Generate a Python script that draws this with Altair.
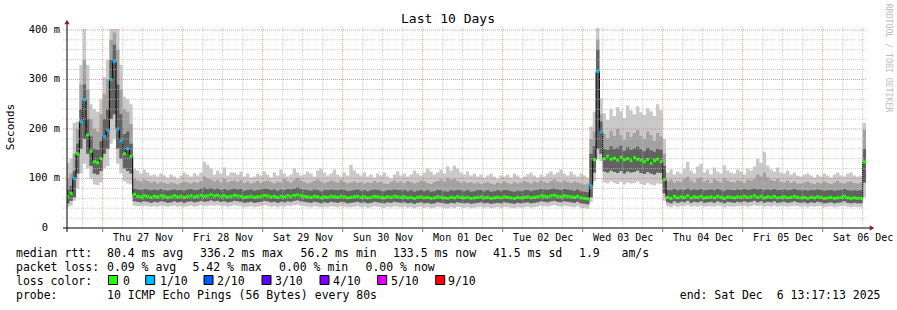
import altair as alt
import pandas as pd

# ---------------- data (hourly bins) ----------------
# hours are relative to Thu 27 Nov 00:00; graph spans Nov 26 13:17:13 .. Dec 6 13:17:13
START_H = -10.7131
END_H = 229.2869
FIRST_BIN = -11

day_labels = ["Thu 27 Nov", "Fri 28 Nov", "Sat 29 Nov", "Sun 30 Nov", "Mon 01 Dec",
              "Tue 02 Dec", "Wed 03 Dec", "Thu 04 Dec", "Fri 05 Dec", "Sat 06 Dec"]

# median rtt (ms)
med_hump = [64, 70, 100, 150, 215, 259, 188, 155, 134, 132, 140, 185, 198, 300, 336, 200, 176, 150, 160, 145]
med_flat1 = [68, 64, 63, 65, 64, 62, 64, 63, 65, 64, 62, 63, 65, 63, 64, 62, 64, 65, 63, 64,
             66, 64, 65, 67, 65, 66, 64, 65, 63, 64, 66, 65, 64, 62, 63, 64, 62, 63, 64, 66,
             65, 63, 64, 62, 64, 63, 65, 64, 66, 67, 65, 64, 63, 62, 64, 63, 61, 63, 62, 64,
             63, 62, 64, 63, 61, 62, 63, 64, 62, 63, 61, 62, 64, 63, 62, 61, 63, 62, 64, 63,
             62, 63, 61, 62, 60, 62, 63, 61, 62, 60, 61, 63, 62, 61, 60, 62, 61, 63, 62, 61,
             62, 60, 61, 62, 63, 61, 62, 60, 61, 62, 61, 63, 62, 61, 60, 62, 61, 62, 63, 61,
             62, 63, 65, 64, 63, 65, 66, 64, 63, 65, 64, 63, 62, 64, 61, 60, 59]
med_spike = [85, 138, 316, 194, 140, 145, 139, 141, 137, 143, 138, 140, 136, 142, 139, 137,
             134, 138, 131, 136, 139, 134, 98]
med_flat2 = [62, 60, 64, 61, 63, 62, 65, 61, 63, 62, 64, 61, 62, 63, 61, 64, 62, 60, 63, 62,
             61, 63, 62, 64, 62, 63, 65, 62, 64, 61, 63, 62, 64, 61, 62, 63, 61, 62, 64, 62,
             61, 62, 60, 62, 61, 63, 62, 60, 61, 62, 60, 61, 62, 64, 61, 60, 61, 60]
med_end = [60, 133.5]

# packet loss per bin (pings lost out of 10)
loss_hump = [0, 0, 1, 0, 1, 1, 0, 0, 0, 0, 0, 1, 1, 1, 1, 1, 1, 0, 1, 0]
loss_spike = [1, 0, 1, 1] + [0] * 19

# smoke: min ping, lower ping, inner upper ping, outer upper ping, max ping (ms)
mn_hump = [42, 45, 55, 80, 110, 130, 120, 100, 88, 87, 92, 120, 125, 170, 180, 130, 110, 95, 90, 88]
lo_hump = [50, 55, 62, 110, 160, 180, 150, 125, 110, 108, 115, 150, 160, 220, 230, 160, 140, 120, 115, 110]
hia_hump = [78, 85, 115, 170, 240, 290, 220, 185, 160, 158, 175, 220, 240, 340, 370, 290, 230, 190, 195, 170]
hib_hump = [100, 110, 150, 200, 290, 340, 280, 220, 200, 195, 230, 270, 300, 380, 395, 360, 280, 240, 235, 210]
mx_hump = [132, 140, 212, 215, 330, 402, 330, 250, 240, 235, 260, 305, 340, 402, 402, 402, 330, 265, 260, 250]

mx_flat1 = [120, 116, 110, 118, 112, 106,
            108, 104, 110, 106, 102, 108, 104, 100,
            106, 112, 108, 104, 110, 106, 112,
            134, 128,
            120, 108, 116, 110, 122, 106, 112,
            112, 108, 114, 104, 110, 102,
            104, 110, 106, 114, 108, 102, 112, 106, 118, 110, 104, 108, 120, 112, 106,
            108, 114, 110, 104, 116, 120, 112, 106, 110, 118, 108, 104, 112, 106, 128, 116, 110, 106, 112, 104,
            108, 102, 110, 106, 112, 104, 100, 108, 114, 106, 110, 104, 108, 116, 110, 106, 112, 120, 114, 108,
            112, 118, 110, 124, 116, 126, 120, 112, 108, 114, 106, 110, 104, 108, 102, 106, 110, 104, 100, 106,
            104, 108, 102, 110, 106, 100, 104, 108, 112, 106, 102, 108, 104, 110, 114, 108, 112, 118, 110, 106,
            114, 108, 104, 110, 106, 102]
hib_flat1 = [100, 96, 94, 98, 95, 92, 94, 90, 93, 91, 89, 92, 90, 88, 91, 94, 92, 90, 93, 91,
             95, 104, 100, 98, 94, 97, 92, 99, 93, 95, 96, 93, 97, 91, 94, 90, 92, 95, 91, 94,
             96, 93, 90, 94, 92, 99, 95, 92, 97, 101, 96, 93, 90, 92, 95, 98, 94, 91, 93, 96,
             94, 92, 97, 93, 90, 92, 94, 91, 93, 90, 92, 91, 95, 92, 94, 90, 89, 93, 96, 92,
             94, 91, 95, 93, 90, 92, 96, 94, 91, 89, 93, 95, 98, 94, 101, 97, 99, 95, 92, 94,
             91, 93, 90, 92, 89, 91, 93, 90, 88, 92, 90, 94, 91, 89, 93, 90, 92, 95, 93, 90,
             94, 92, 96, 93, 91, 95, 98, 94, 92, 96, 93, 91, 94, 92, 90, 88, 90]
hia_flat1 = [80, 78, 77, 79, 78, 76, 78, 76, 79, 77, 75, 77, 78, 76, 77, 75, 78, 79, 76, 77,
             80, 82, 79, 81, 78, 80, 77, 79, 76, 78, 80, 78, 79, 75, 77, 78, 75, 77, 78, 80,
             79, 77, 78, 75, 78, 77, 79, 78, 80, 82, 79, 78, 76, 75, 78, 77, 74, 77, 76, 78,
             77, 76, 78, 77, 74, 75, 77, 78, 75, 77, 74, 76, 78, 77, 75, 74, 77, 76, 78, 77,
             76, 77, 74, 76, 73, 75, 77, 74, 76, 73, 74, 77, 76, 74, 73, 76, 75, 77, 76, 74,
             76, 73, 74, 76, 77, 74, 76, 73, 74, 76, 74, 77, 76, 74, 73, 75, 74, 76, 77, 74,
             76, 77, 79, 78, 77, 79, 80, 78, 77, 79, 78, 76, 75, 78, 74, 73, 72]
lo_flat1 = [54, 53, 52, 54, 53, 51, 53, 52, 54, 53, 51, 52, 54, 52, 53, 51, 53, 54, 52, 53,
            55, 53, 54, 56, 54, 55, 53, 54, 52, 53, 55, 54, 53, 51, 52, 53, 51, 52, 53, 55,
            54, 52, 53, 51, 53, 52, 54, 53, 55, 56, 54, 53, 52, 51, 53, 52, 50, 52, 51, 53,
            52, 51, 53, 52, 50, 51, 52, 53, 51, 52, 50, 51, 53, 52, 51, 50, 52, 51, 53, 52,
            51, 52, 50, 51, 49, 51, 52, 50, 51, 49, 50, 52, 51, 50, 49, 51, 50, 52, 51, 50,
            51, 49, 50, 51, 52, 50, 51, 49, 50, 51, 50, 52, 51, 50, 49, 51, 50, 51, 52, 50,
            51, 52, 54, 53, 52, 54, 55, 53, 52, 54, 53, 52, 51, 53, 50, 49, 48]
mn_flat1 = [45, 44, 44, 45, 44, 43, 44, 43, 45, 44, 43, 44, 45, 43, 44, 43, 44, 45, 43, 44,
            46, 44, 45, 46, 45, 46, 44, 45, 43, 44, 46, 45, 44, 42, 43, 44, 42, 43, 44, 46,
            45, 43, 44, 42, 44, 43, 45, 44, 46, 47, 45, 44, 43, 42, 44, 43, 42, 43, 42, 44,
            43, 42, 44, 43, 42, 42, 43, 44, 42, 43, 41, 42, 44, 43, 42, 41, 43, 42, 44, 43,
            42, 43, 41, 42, 40, 42, 43, 41, 42, 40, 41, 43, 42, 41, 40, 42, 41, 43, 42, 41,
            42, 40, 41, 42, 43, 41, 42, 40, 41, 42, 41, 43, 42, 41, 40, 42, 41, 42, 43, 41,
            42, 43, 45, 44, 43, 45, 46, 44, 43, 45, 44, 43, 42, 44, 41, 40, 39]

mx_spike = [205, 235, 404, 262, 232, 218, 240, 226, 244, 236, 222, 248, 238, 230, 246, 234,
            228, 242, 236, 226, 250, 238, 180]
hib_spike = [180, 195, 380, 230, 190, 182, 196, 186, 200, 188, 178, 194, 184, 192, 198, 186,
             180, 195, 188, 176, 192, 185, 150]
hia_spike = [150, 165, 360, 215, 160, 158, 165, 160, 162, 166, 156, 163, 158, 161, 164, 159,
             155, 162, 157, 154, 160, 158, 125]
lo_spike = [62, 112, 160, 150, 114, 112, 116, 113, 111, 115, 110, 114, 112, 113, 116, 111,
            109, 113, 110, 108, 112, 111, 70]
mn_spike = [52, 95, 140, 135, 92, 90, 94, 91, 89, 93, 88, 92, 90, 91, 94, 89,
            87, 91, 88, 86, 90, 89, 55]

mx_flat2 = [112, 118, 108, 114, 110, 120, 134, 116, 110, 124, 130, 112, 118, 108, 122, 114, 110, 126, 116, 112,
            110, 118, 114, 108, 120, 116, 124, 140, 132, 154, 126, 118, 114, 122, 112, 110, 116, 108, 112, 106,
            104, 108, 110, 106, 102, 108, 104, 110, 106, 102, 108, 112, 106, 104, 110, 112, 106, 104]
hib_flat2 = [94, 98, 92, 95, 93, 99, 104, 96, 92, 100, 102, 94, 97, 91, 99, 95, 92, 101, 96, 93,
             92, 97, 95, 91, 98, 96, 100, 108, 104, 112, 102, 97, 95, 99, 93, 92, 96, 91, 94, 90,
             90, 92, 94, 91, 89, 92, 90, 94, 91, 89, 92, 95, 91, 90, 93, 94, 91, 90]
hia_flat2 = [77, 76, 79, 76, 78, 77, 80, 76, 78, 77, 79, 76, 77, 78, 76, 79, 77, 75, 78, 77,
             76, 78, 77, 79, 77, 78, 80, 78, 79, 77, 78, 77, 79, 76, 77, 78, 76, 77, 79, 77,
             76, 77, 75, 77, 76, 78, 77, 75, 76, 77, 75, 76, 77, 79, 76, 75, 76, 75]
lo_flat2 = [52, 50, 54, 51, 53, 52, 55, 51, 53, 52, 54, 51, 52, 53, 51, 54, 52, 50, 53, 52,
            51, 53, 52, 54, 52, 53, 55, 52, 54, 51, 53, 52, 54, 51, 52, 53, 51, 52, 54, 52,
            51, 52, 50, 52, 51, 53, 52, 50, 51, 52, 50, 51, 52, 54, 51, 50, 51, 50]
mn_flat2 = [44, 42, 45, 43, 44, 44, 46, 43, 44, 43, 45, 43, 44, 44, 43, 45, 44, 42, 44, 43,
            43, 44, 44, 45, 43, 44, 46, 44, 45, 43, 44, 43, 45, 43, 44, 44, 43, 44, 45, 44,
            43, 44, 42, 44, 43, 44, 44, 42, 43, 44, 42, 43, 44, 45, 43, 42, 43, 42]

mx_end = [106, 212]
hib_end = [92, 198]
hia_end = [76, 160]
lo_end = [50, 92]
mn_end = [42, 62]

# legend / statistics texts
stat_rtt = ["80.4 ms avg", "336.2 ms max", "56.2 ms min", "133.5 ms now", "41.5 ms sd", "1.9", "am/s"]
stat_loss = ["0.09 % avg", "5.42 % max", "0.00 % min", "0.00 % now"]
loss_names = ["0", "1/10", "2/10", "3/10", "4/10", "5/10", "9/10"]
loss_colors = ["#20ff00", "#00b8ff", "#0059ff", "#5e00ff", "#7e00ff", "#dd00ff", "#ff0000"]
probe_text = "10 ICMP Echo Pings (56 Bytes) every 80s"
end_text = "end: Sat Dec\u00a0\u00a06 13:17:13 2025"
y_ticks = [0, 100, 200, 300, 400]
y_tick_labels = ["0", "100 m", "200 m", "300 m", "400 m"]

# ---------------- build table ----------------
med = med_hump + med_flat1 + med_spike + med_flat2 + med_end
loss = loss_hump + [0] * len(med_flat1) + loss_spike + [0] * len(med_flat2) + [0, 0]
mn = mn_hump + mn_flat1 + mn_spike + mn_flat2 + mn_end
lo = lo_hump + lo_flat1 + lo_spike + lo_flat2 + lo_end
hia = hia_hump + hia_flat1 + hia_spike + hia_flat2 + hia_end
hib = hib_hump + hib_flat1 + hib_spike + hib_flat2 + hib_end
mx = mx_hump + mx_flat1 + mx_spike + mx_flat2 + mx_end
n = len(med)
for arr in (loss, mn, lo, hia, hib, mx):
    assert len(arr) == n, (len(arr), n)

df = pd.DataFrame({
    "x0": [FIRST_BIN + i for i in range(n)],
    "x1": [FIRST_BIN + i + 1 for i in range(n)],
    "med": med, "loss": loss, "mn": mn, "lo": lo, "hia": hia, "hib": hib, "mx": mx,
})
# extra closing row so that step areas cover the last bin
df_area = pd.concat([df, df.iloc[[-1]].assign(x0=FIRST_BIN + n)], ignore_index=True)

minor_h = [h for h in range(-6, 229, 6) if h % 24 != 0]
major_h = [h for h in range(0, 229, 24)]
minor_v = [v for v in range(20, 401, 20) if v % 100 != 0]
major_v = [100, 200, 300, 400]
label_h = [12 + 24 * i for i in range(len(day_labels))]

W, H = 800, 201
MONO = "DejaVu Sans Mono"

xscale = alt.Scale(domain=[START_H, END_H], nice=False, zero=False)
yscale = alt.Scale(domain=[0, 406], nice=False, zero=True)
lab_expr = "[" + ",".join("'%s'" % s for s in day_labels) + "][round((datum.value-12)/24)]"
xaxis = alt.Axis(values=label_h, labelExpr=lab_expr, domain=False, ticks=False, grid=False,
                 labelFont=MONO, labelFontSize=10, labelColor="#000000", labelPadding=4,
                 labelFlush=False, labelOverlap=False, title=None)


def X(field):
    return alt.X(field, type="quantitative", scale=xscale, axis=xaxis)


def Y(field):
    return alt.Y(field, type="quantitative", scale=yscale, axis=None)


base = alt.Chart(df_area)
band_light = base.mark_area(interpolate="step-after", color="#c9c9c9", clip=True).encode(
    x=X("x0"), y=Y("mn"), y2="mx")
band_mid = base.mark_area(interpolate="step-after", color="#a2a2a2", clip=True).encode(
    x=X("x0"), y=Y("lo"), y2="hib")
band_dark = base.mark_area(interpolate="step-after", color="#626262", clip=True).encode(
    x=X("x0"), y=Y("lo"), y2="hia")
median_line = base.mark_line(interpolate="step-after", color="#000000", strokeWidth=1, clip=True).encode(
    x=X("x0"), y=Y("med"))
median_marks = alt.Chart(df).mark_rule(strokeWidth=3, strokeCap="butt", clip=True).encode(
    x=X("x0"), x2="x1", y=Y("med"),
    color=alt.Color("loss:N", scale=alt.Scale(domain=[0, 1], range=[loss_colors[0], loss_colors[1]]), legend=None))

grid_minor_x = alt.Chart(pd.DataFrame({"h": minor_h})).mark_rule(
    color="#b8b8b8", strokeDash=[1, 1], opacity=0.75).encode(x=X("h"), y=alt.value(0), y2=alt.value(H))
grid_major_x = alt.Chart(pd.DataFrame({"h": major_h})).mark_rule(
    color="#dc5a5a", strokeDash=[1, 1], opacity=0.6).encode(x=X("h"), y=alt.value(0), y2=alt.value(H))
grid_minor_y = alt.Chart(pd.DataFrame({"v": minor_v})).mark_rule(
    color="#b8b8b8", strokeDash=[1, 1], opacity=0.75).encode(y=Y("v"), x=alt.value(-4), x2=alt.value(W))
grid_major_y = alt.Chart(pd.DataFrame({"v": major_v})).mark_rule(
    color="#dc5a5a", strokeDash=[1, 1], opacity=0.6).encode(y=Y("v"), x=alt.value(-4), x2=alt.value(W))
x_ticks = alt.Chart(pd.DataFrame({"h": major_h})).mark_rule(color="#d06060").encode(
    x=X("h"), y=alt.value(H + 1), y2=alt.value(H + 4))

axis_x = alt.Chart(pd.DataFrame({"a": [0]})).mark_rule(color="#000000").encode(
    x=alt.value(-4), x2=alt.value(W + 4), y=alt.value(H))
axis_y = alt.Chart(pd.DataFrame({"a": [0]})).mark_rule(color="#000000").encode(
    x=alt.value(0), y=alt.value(-4), y2=alt.value(H + 4))
arrow_up = alt.Chart(pd.DataFrame({"a": [0]})).mark_point(
    shape="triangle-up", filled=True, color="#8e2020", size=28, opacity=1).encode(
    x=alt.value(0), y=alt.value(-5))
arrow_right = alt.Chart(pd.DataFrame({"a": [0]})).mark_point(
    shape="triangle-right", filled=True, color="#8e2020", size=28, opacity=1).encode(
    x=alt.value(W + 5), y=alt.value(H))

ylab_df = pd.DataFrame({"v": y_ticks[1:], "t": y_tick_labels[1:]})
ylabels = alt.Chart(ylab_df).mark_text(align="right", baseline="middle", font=MONO, fontSize=10.4,
                                       color="#000000").encode(y=Y("v"), x=alt.value(-7), text="t:N")
ylabel0 = alt.Chart(pd.DataFrame({"v": y_ticks[:1], "t": y_tick_labels[:1]})).mark_text(
    align="right", baseline="middle", font=MONO, fontSize=10.4, color="#000000").encode(
    y=Y("v"), x=alt.value(-19), text="t:N")

one = pd.DataFrame({"a": [0]})


def txt(s, x, y, size=11.5, align="left", color="#000000", angle=0):
    return alt.Chart(one).mark_text(align=align, baseline="middle", font=MONO, fontSize=size,
                                    color=color, angle=angle).encode(
        x=alt.value(x), y=alt.value(y), text=alt.value(s))


OX, OY = 67, 27  # plot origin in page pixels
texts = [
    txt("Last 10 Days", 448 - OX, 19 - OY, size=13, align="center"),
    txt("Seconds", 11 - OX, 127 - OY, size=11, align="center", angle=270),
    txt("RRDTOOL / TOBI OETIKER", 888 - OX, 58 - OY, size=8.2, align="center", color="#bdbdbd", angle=90),
    txt("median rtt:", 16 - OX, 254 - OY),
    txt("packet loss:", 16 - OX, 268 - OY),
    txt("loss color:", 16 - OX, 282 - OY),
    txt("probe:", 16 - OX, 296 - OY),
    txt(probe_text, 107 - OX, 296 - OY),
    txt(end_text, 880.5 - OX, 296 - OY, align="right"),
]
for s, px in zip(stat_rtt, [107, 200, 300.5, 393, 493, 579, 621.5]):
    texts.append(txt(s, px - OX, 254 - OY))
for s, px in zip(stat_loss, [107, 192.5, 279, 365.5]):
    texts.append(txt(s, px - OX, 268 - OY))

box_left = [108.5, 145.7, 204, 262, 320, 377.7, 435.7]
lab_left = [123, 160, 217, 275, 333, 391, 448]
boxes = []
for name, col, bx, lx in zip(loss_names, loss_colors, box_left, lab_left):
    boxes.append(alt.Chart(one).mark_rect(color=col, stroke="#000000", strokeWidth=1).encode(
        x=alt.value(bx - OX), x2=alt.value(bx + 9 - OX), y=alt.value(275.5 - OY), y2=alt.value(284.5 - OY)))
    texts.append(txt(name, lx - OX, 282 - OY))

chart = alt.layer(
    band_light, band_mid, band_dark, median_line, median_marks,
    grid_minor_x, grid_minor_y, grid_major_x, grid_major_y,
    axis_x, axis_y, x_ticks, arrow_up, arrow_right,
    ylabels, ylabel0, *boxes, *texts
).properties(
    width=W, height=H, autosize="none", background="#ffffff",
    padding={"left": OX, "top": OY, "right": 897 - OX - W, "bottom": 310 - OY - H}
).configure_view(stroke=None)

chart.save("out.html", embed_options={"renderer": "svg", "actions": False})
